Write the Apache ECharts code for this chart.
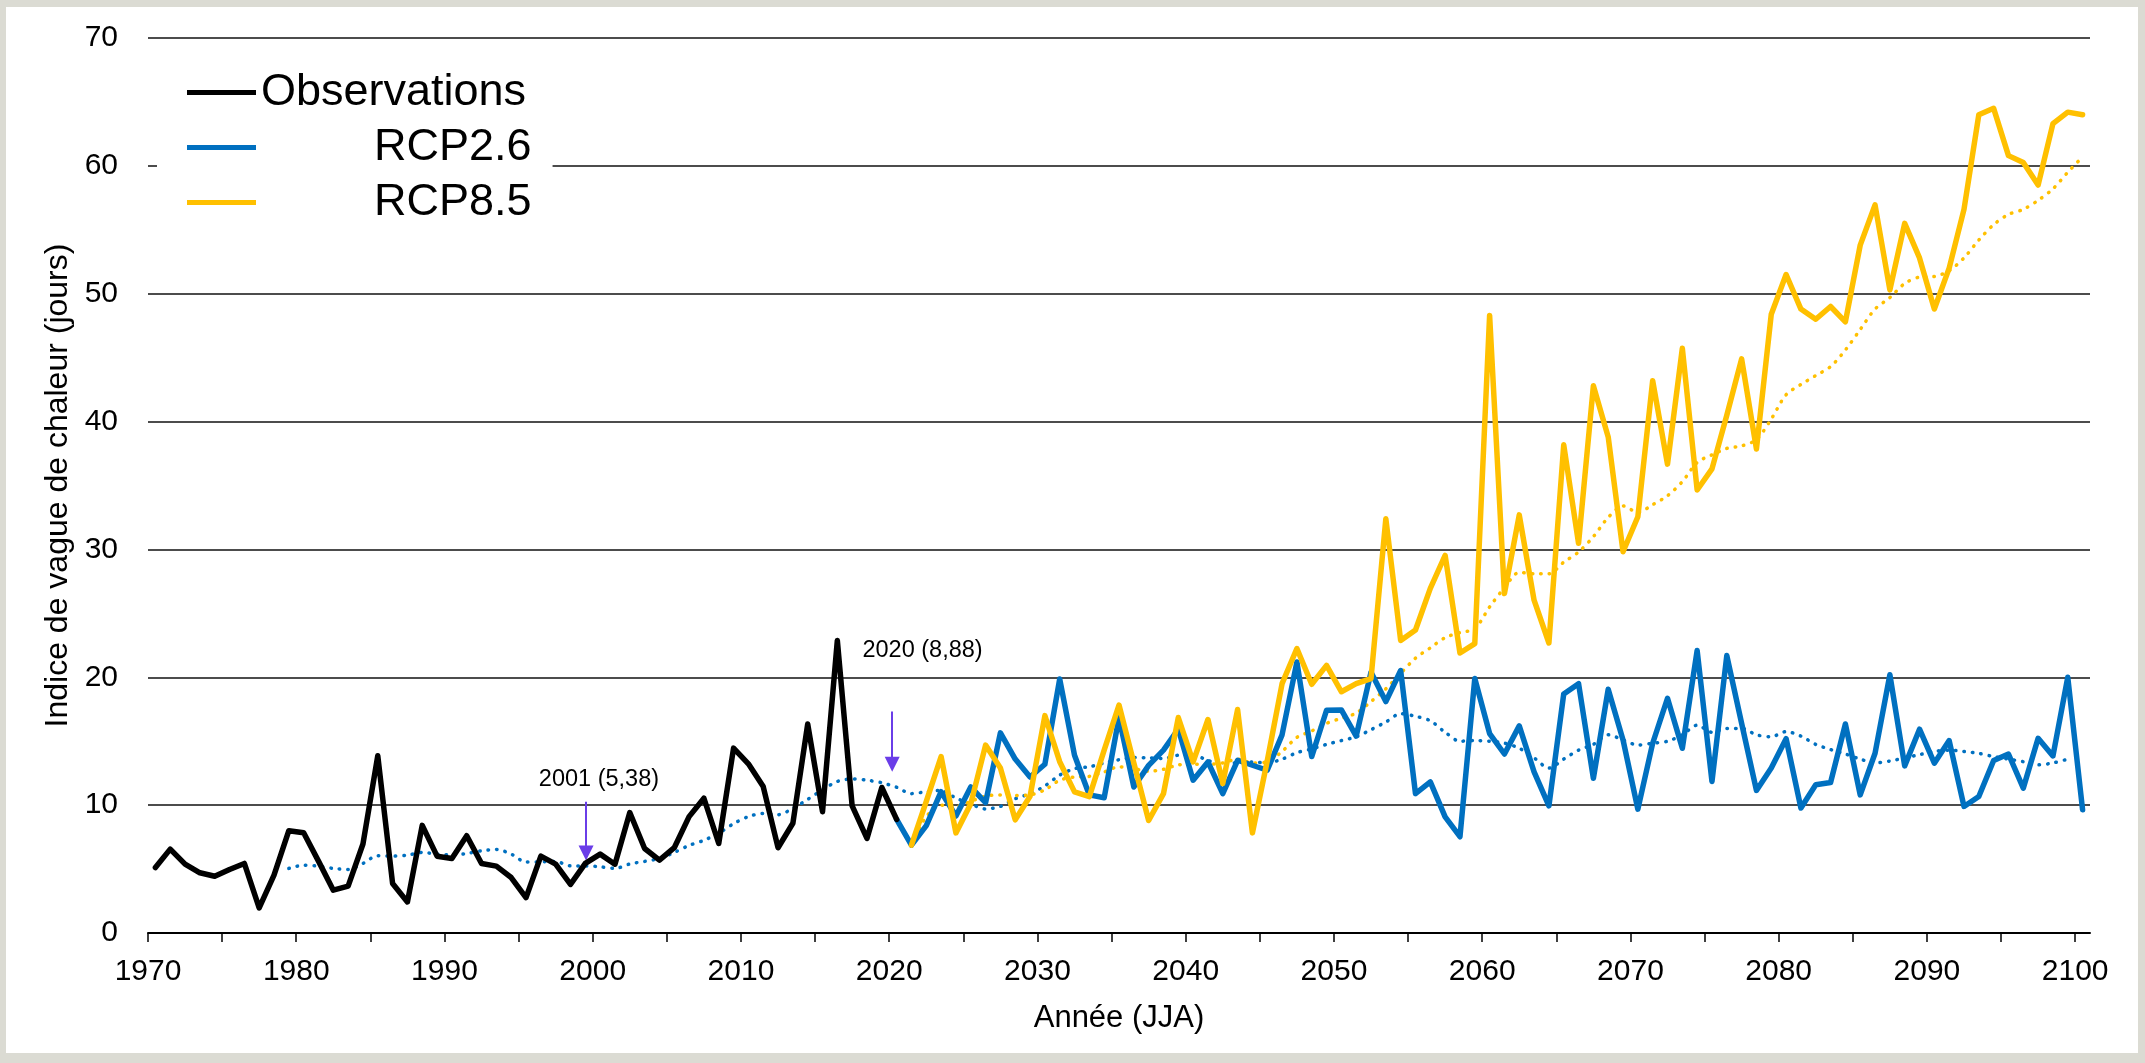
<!DOCTYPE html>
<html lang="fr">
<head>
<meta charset="utf-8">
<title>Indice de vague de chaleur</title>
<script src="https://cdn.jsdelivr.net/npm/echarts@6/dist/echarts.min.js"></script>
<style>
  html, body { margin: 0; height: 100%; background: #dbdbd3; }
  #chart { position: absolute; left: 6px; top: 7px; width: 2132px; height: 1046px; background: #fff; }
</style>
</head>
<body>
<div id="chart"></div>
<script>
// values, one per year
const obsStart = 1970;
const obsValues = [
  5.12, 6.56, 5.39, 4.71, 4.44, 4.97, 5.44, 1.96, 4.52, 8.0,
  7.84, 5.62, 3.35, 3.66, 6.96, 13.86, 3.87, 2.43, 8.42, 6.01,
  5.83, 7.61, 5.44, 5.23, 4.34, 2.77, 6.01, 5.39, 3.8, 5.44,
  6.17, 5.38, 9.42, 6.61, 5.7, 6.67, 9.1, 10.54, 7.0, 14.46,
  13.23, 11.45, 6.67, 8.58, 16.34, 9.49, 22.88, 9.94, 7.4, 11.38,
  8.88
];

const rcp26Start = 2020;
const rcp26Values = [
  8.88,
  6.87, 8.4, 11.05, 9.15, 11.42, 10.2, 15.65, 13.6, 12.2, 13.2,
  19.87, 13.9, 10.8, 10.58, 16.85, 11.42, 13.11, 14.3, 15.95, 11.95,
  13.38, 10.9, 13.51, 13.12, 12.73, 15.5, 21.2, 13.8, 17.42, 17.45,
  15.4, 20.4, 18.1, 20.53, 10.9, 11.82, 9.08, 7.53, 19.9, 15.6,
  14.0, 16.2, 12.6, 9.95, 18.7, 19.5, 12.1, 19.06, 15.1, 9.69,
  14.84, 18.36, 14.45, 22.1, 11.85, 21.7, 16.4, 11.15, 12.9, 15.2,
  9.77, 11.6, 11.77, 16.35, 10.8, 14.06, 20.2, 13.07, 15.94, 13.28,
  15.05, 9.9, 10.68, 13.49, 14.0, 11.33, 15.23, 13.85, 20.0, 9.64
];

const rcp85Start = 2021;
const rcp85Values = [
  6.87, 10.3, 13.8, 7.83, 10.1, 14.7, 12.9, 8.85, 10.7, 17.0,
  13.4, 11.04, 10.67, 14.3, 17.83, 13.3, 8.8, 10.9, 16.85, 13.38,
  16.7, 11.69, 17.48, 7.83, 13.46, 19.5, 22.25, 19.45, 20.93, 18.87,
  19.5, 19.9, 32.4, 22.88, 23.7, 26.96, 29.53, 21.9, 22.63, 48.3,
  26.55, 32.7, 26.03, 22.68, 38.18, 30.48, 42.8, 38.8, 29.82, 32.56,
  43.2, 36.67, 45.73, 34.65, 36.3, 40.5, 44.9, 37.85, 48.4, 51.5,
  48.8, 48.0, 49.0, 47.8, 53.8, 56.95, 50.3, 55.5, 52.8, 48.8,
  52.0, 56.6, 64.0, 64.5, 60.8, 60.26, 58.5, 63.3, 64.2, 64.0
];

// dotted trend curves, also
const trend26Start = 1979;
const trend26Values = [
  5.05,
  5.3, 5.23, 5.05, 4.97, 5.44, 6.05, 6.01, 6.09, 6.3, 6.17,
  6.1, 6.22, 6.43, 6.54, 6.17, 5.55, 5.57, 5.6, 5.25, 5.25,
  5.18, 5.05, 5.4, 5.6, 5.83, 6.3, 6.85, 7.25, 7.8, 8.55,
  9.1, 9.35, 9.25, 9.75, 10.45, 11.2, 11.85, 12.05, 11.95, 11.75,
  11.4, 10.9, 11.05, 11.15, 10.55, 10.1, 9.7, 9.9, 10.5, 10.9,
  11.5, 12.35, 12.85, 13.0, 13.3, 13.55, 13.72, 13.7, 13.65, 13.9,
  13.9, 13.5, 13.1, 13.35, 13.38, 13.3, 13.6, 14.1, 14.4, 14.75,
  15.05, 15.35, 15.9, 16.5, 17.15, 16.95, 16.6, 15.7, 15.0, 15.05,
  15.0, 14.85, 14.45, 13.7, 12.9, 13.6, 14.3, 14.75, 15.5, 15.1,
  14.7, 14.84, 15.0, 15.5, 16.25, 15.7, 16.0, 16.0, 15.5, 15.35,
  15.75, 15.4, 14.75, 14.35, 14.0, 13.6, 13.3, 13.45, 13.7, 13.95,
  14.2, 14.3, 14.2, 14.05, 13.8, 13.6, 13.4, 13.15, 13.3, 13.6
];

const trend85Start = 2021;
const trend85Values = [
  7.0, 9.1, 10.0, 9.9, 10.3, 10.7, 10.8, 10.75, 10.8, 11.2,
  11.95, 12.2, 12.25, 12.6, 13.0, 12.85, 12.65, 12.8, 13.15, 13.2,
  13.2, 13.3, 13.6, 13.3, 13.4, 14.2, 15.3, 15.8, 16.4, 16.8,
  17.2, 18.1, 19.1, 20.3, 21.5, 22.3, 23.1, 23.5, 23.8, 25.5,
  27.0, 28.2, 28.1, 28.1, 29.0, 29.8, 31.0, 32.5, 33.4, 32.9,
  33.5, 34.2, 35.3, 36.8, 37.4, 37.9, 38.1, 38.6, 40.2, 42.1,
  42.9, 43.6, 44.3, 45.6, 47.2, 48.8, 49.7, 50.8, 51.3, 51.35,
  51.8, 52.8, 54.2, 55.4, 56.2, 56.6, 57.3, 58.2, 59.5, 60.7
];

const tickYears = [1970, 1975, 1980, 1985, 1990, 1995, 2000, 2005, 2010, 2015, 2020, 2025, 2030,
  2035, 2040, 2045, 2050, 2055, 2060, 2065, 2070, 2075, 2080, 2085, 2090, 2095, 2100];
const labelYears = [1970, 1980, 1990, 2000, 2010, 2020, 2030, 2040, 2050, 2060, 2070, 2080, 2090, 2100];

// arrows + captions, in axis units
const notes = [
  { text: "2001 (5,38)", x: 1999.55, top: 10.27, end: 6.25, tx: 2000.42, ty: 12.0 },
  { text: "2020 (8,88)", x: 2020.2, top: 17.33, end: 13.2, tx: 2022.25, ty: 22.12 },
];

const FONT = "'Liberation Sans', Arial, sans-serif";
const BLUE = "#0070c0";
const GOLD = "#ffc000";
const ARROW = "#6a3de8";

// each year sits in the middle of its slot, like a category axis
function toPoints(start, values) {
  return values.map((v, i) => [start + i + 0.5, v]);
}

function solid(name, color, start, values, extra) {
  return Object.assign({
    name,
    type: "line",
    data: toPoints(start, values),
    showSymbol: false,
    symbol: "none",
    lineStyle: { color, width: 5.5, join: "round", cap: "round" },
    itemStyle: { color },
    z: 3,
  }, extra || {});
}

function dotted(name, color, start, values) {
  return {
    name,
    type: "line",
    data: toPoints(start, values),
    showSymbol: false,
    symbol: "none",
    smooth: 0.3,
    lineStyle: { color, width: 3.5, type: [0.5, 8], cap: "round" },
    itemStyle: { color },
    z: 2,
  };
}

const chart = echarts.init(document.getElementById("chart"));

chart.setOption({
  animation: false,
  textStyle: { fontFamily: FONT, color: "#000" },
  grid: { left: 142, right: 48, top: 31, bottom: 120 },
  legend: {
    data: ["Observations", "RCP2.6", "RCP8.5"],
    orient: "vertical",
    left: 151,
    top: 53,
    padding: [10, 21, 10, 30],
    backgroundColor: "#fff",
    icon: "rect",
    itemWidth: 69,
    itemHeight: 5,
    itemGap: 10,
    selectedMode: false,
    formatter: (name) => (name === "Observations" ? `{o|${name}}` : `{r|${name}}`),
    textStyle: {
      fontSize: 45,
      color: "#000",
      fontFamily: FONT,
      rich: {
        o: { fontSize: 45, color: "#000", fontFamily: FONT },
        r: { fontSize: 45, color: "#000", fontFamily: FONT, padding: [0, 0, 0, 113] },
      },
    },
  },
  xAxis: {
    type: "value",
    min: 1970,
    max: 2101,
    name: "Année (JJA)",
    nameLocation: "middle",
    nameGap: 70,
    nameTextStyle: { fontSize: 31, color: "#000", fontFamily: FONT },
    axisLine: { lineStyle: { color: "#000", width: 2 } },
    axisTick: { customValues: tickYears, length: 9, lineStyle: { color: "#000", width: 1.5 } },
    axisLabel: {
      customValues: labelYears,
      formatter: (v) => String(v),
      fontSize: 30,
      color: "#000",
      margin: 24,
      fontFamily: FONT,
    },
    splitLine: { show: false },
  },
  yAxis: {
    type: "value",
    min: 0,
    max: 70,
    interval: 10,
    name: "Indice de vague de chaleur (jours)",
    nameLocation: "middle",
    nameGap: 72,
    nameTextStyle: { fontSize: 32, color: "#000", fontFamily: FONT },
    axisLine: { show: false },
    axisTick: { show: false },
    axisLabel: { fontSize: 30, color: "#000", margin: 30, fontFamily: FONT },
    splitLine: { lineStyle: { color: "#111", width: 1.5 } },
  },
  series: [
    dotted("Tendance RCP2.6", BLUE, trend26Start, trend26Values),
    dotted("Tendance RCP8.5", GOLD, trend85Start, trend85Values),
    solid("RCP2.6", BLUE, rcp26Start, rcp26Values),
    solid("RCP8.5", GOLD, rcp85Start, rcp85Values, { z: 4 }),
    solid("Observations", "#000", obsStart, obsValues, {
      z: 5,
      markLine: {
        silent: true,
        symbol: ["none", "triangle"],
        symbolSize: 15,
        label: { show: false },
        lineStyle: { color: ARROW, width: 2, type: "solid" },
        itemStyle: { color: ARROW },
        data: notes.map((n) => [
          { coord: [n.x, n.top] },
          { coord: [n.x, n.end] },
        ]),
      },
      markPoint: {
        silent: true,
        symbol: "circle",
        symbolSize: 1,
        itemStyle: { color: "rgba(0,0,0,0)" },
        label: {
          show: true,
          position: "inside",
          fontSize: 23.5,
          color: "#000",
          fontFamily: FONT,
          formatter: (p) => p.name,
        },
        data: notes.map((n) => ({ name: n.text, coord: [n.tx, n.ty] })),
      },
    }),
  ],
});

window.addEventListener("resize", () => chart.resize());
</script>
</body>
</html>
